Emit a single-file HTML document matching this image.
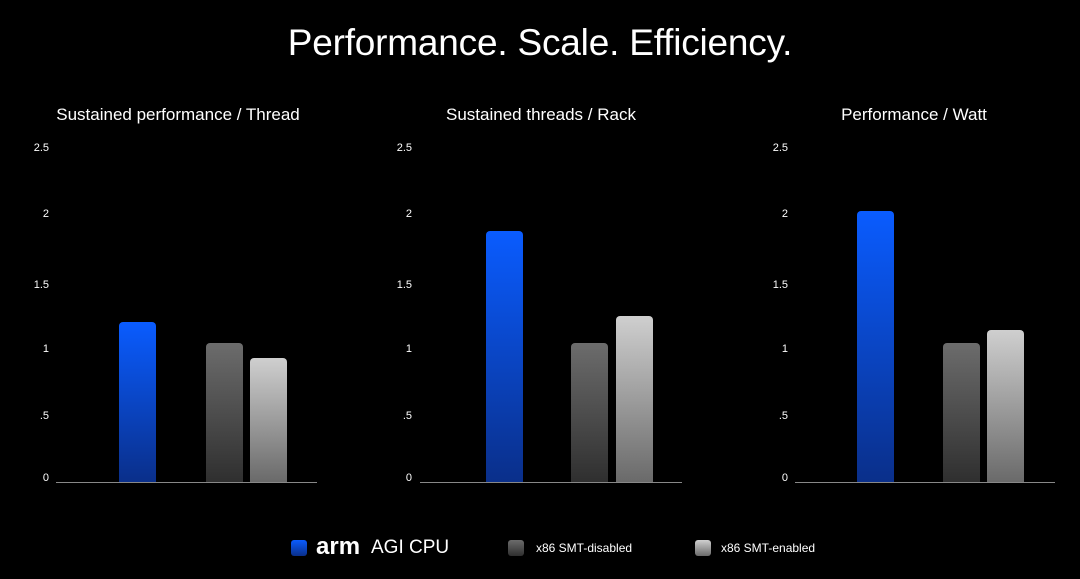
<!DOCTYPE html>
<html><head><style>
body{margin:0;width:1080px;height:579px;background:#000;position:relative;overflow:hidden;font-family:"Liberation Sans",sans-serif;color:#fff}
.a{position:absolute}
.t{font-size:17px;text-align:center;width:360px;top:105px}
.tk{font-size:11px;text-align:right;width:30px}
.ax{height:1px;background:#888;top:482px}
.b{border-radius:4px 4px 0 0;width:37px}
.bl{background:linear-gradient(#0a5cff,#0a2f8a)}
.dg{background:linear-gradient(#6c6c6c,#2f2f2f)}
.lg{background:linear-gradient(#cfcfcf,#6a6a6a)}
.lgs{width:16px;height:16px;border-radius:3px;top:540px}
</style></head><body>
<div class="a" style="top:22px;width:1080px;text-align:center;font-size:37px;letter-spacing:-0.2px">Performance. Scale. Efficiency.</div>

<div class="a t" style="left:-2px">Sustained performance / Thread</div>
<div class="a t" style="left:361px">Sustained threads / Rack</div>
<div class="a t" style="left:734px">Performance / Watt</div>

<!-- ticks -->
<div class="a tk" style="left:19px;top:142px">2.5</div><div class="a tk" style="left:19px;top:208px">2</div><div class="a tk" style="left:19px;top:279px">1.5</div><div class="a tk" style="left:19px;top:343px">1</div><div class="a tk" style="left:19px;top:410px">.5</div><div class="a tk" style="left:19px;top:472px">0</div>
<div class="a tk" style="left:382px;top:142px">2.5</div><div class="a tk" style="left:382px;top:208px">2</div><div class="a tk" style="left:382px;top:279px">1.5</div><div class="a tk" style="left:382px;top:343px">1</div><div class="a tk" style="left:382px;top:410px">.5</div><div class="a tk" style="left:382px;top:472px">0</div>
<div class="a tk" style="left:758px;top:142px">2.5</div><div class="a tk" style="left:758px;top:208px">2</div><div class="a tk" style="left:758px;top:279px">1.5</div><div class="a tk" style="left:758px;top:343px">1</div><div class="a tk" style="left:758px;top:410px">.5</div><div class="a tk" style="left:758px;top:472px">0</div>

<div class="a ax" style="left:56px;width:261px"></div>
<div class="a ax" style="left:420px;width:262px"></div>
<div class="a ax" style="left:795px;width:260px"></div>

<div class="a b bl" style="left:119px;top:322px;height:160px"></div>
<div class="a b dg" style="left:206px;top:343px;height:139px"></div>
<div class="a b lg" style="left:250px;top:358px;height:124px"></div>

<div class="a b bl" style="left:486px;top:231px;height:251px"></div>
<div class="a b dg" style="left:571px;top:343px;height:139px"></div>
<div class="a b lg" style="left:616px;top:316px;height:166px"></div>

<div class="a b bl" style="left:857px;top:211px;height:271px"></div>
<div class="a b dg" style="left:943px;top:343px;height:139px"></div>
<div class="a b lg" style="left:987px;top:330px;height:152px"></div>

<!-- legend -->
<div class="a lgs bl" style="left:291px"></div>
<div class="a" style="left:316px;top:533px;font-size:24px;font-weight:bold">arm</div>
<div class="a" style="left:371px;top:537px;font-size:19px">AGI CPU</div>
<div class="a lgs dg" style="left:508px"></div>
<div class="a" style="left:536px;top:541px;font-size:12px">x86 SMT-disabled</div>
<div class="a lgs lg" style="left:695px"></div>
<div class="a" style="left:721px;top:541px;font-size:12px">x86 SMT-enabled</div>
</body></html>
